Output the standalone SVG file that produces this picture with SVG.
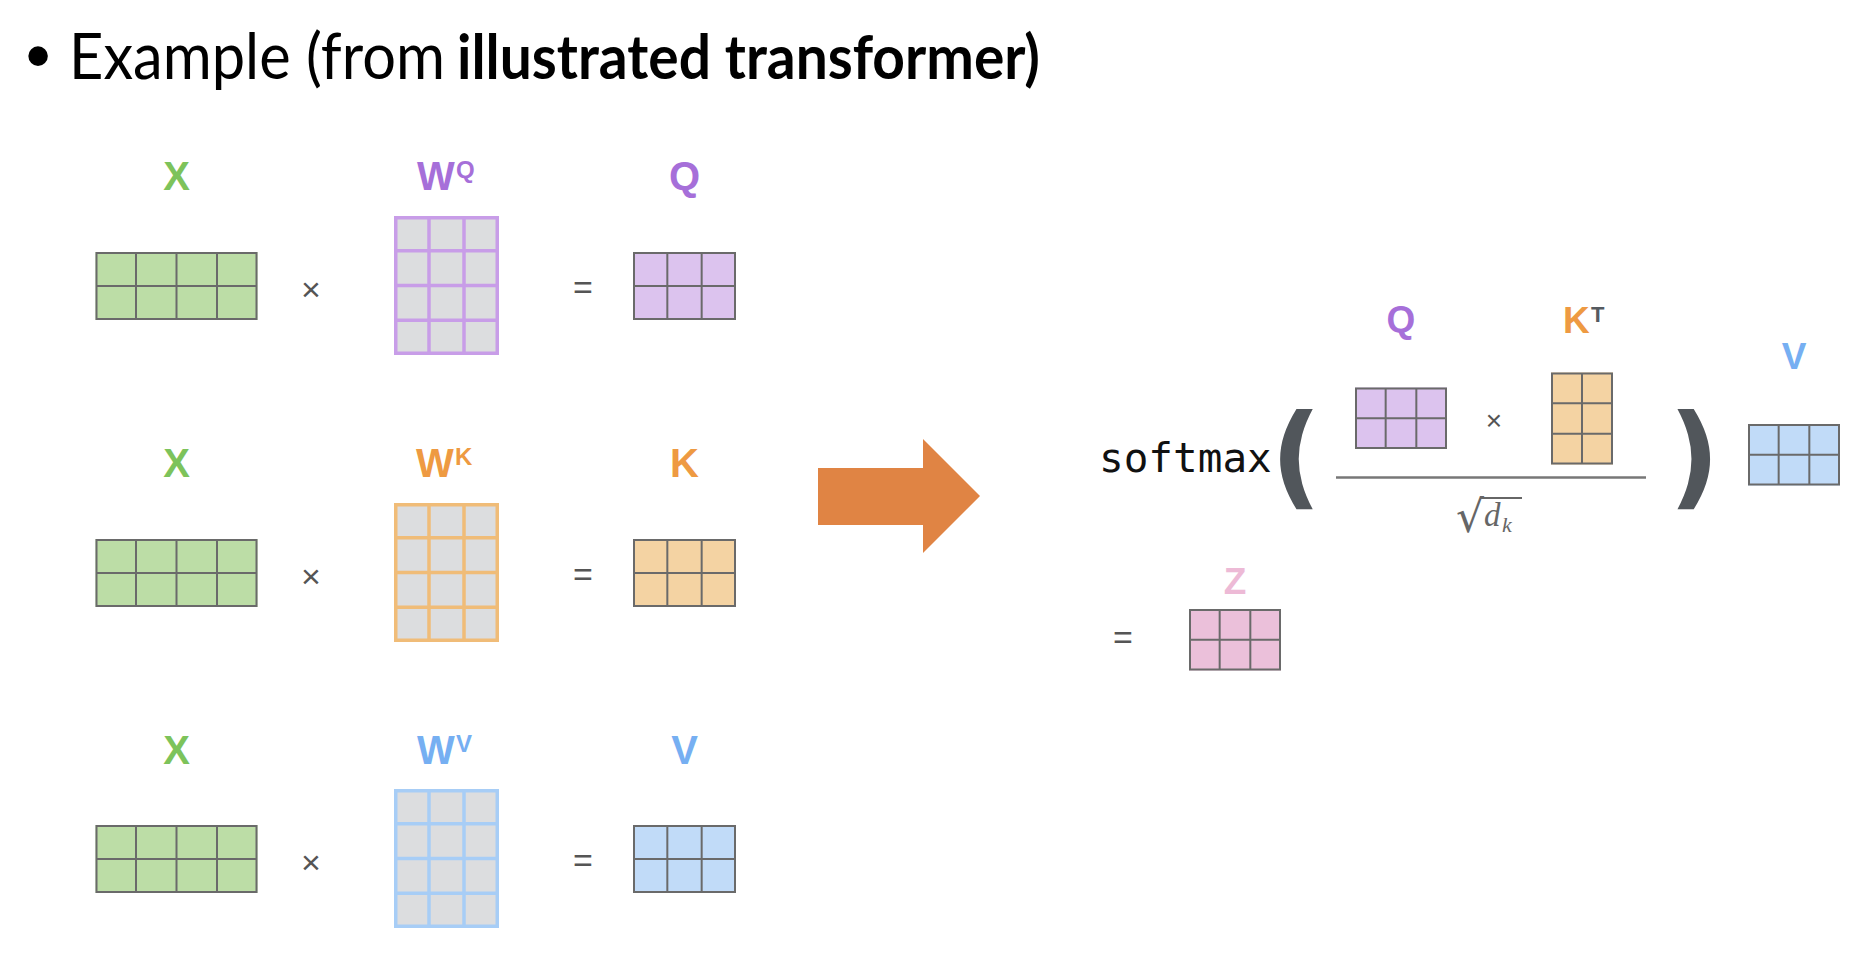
<svg xmlns="http://www.w3.org/2000/svg" xmlns:xlink="http://www.w3.org/1999/xlink" width="1870" height="954" viewBox="0 0 1870 954">
<style>
.title{font-family:Lato,"Liberation Sans",sans-serif;font-size:64px;fill:#000}
.b{font-weight:bold}
.lbl{font-family:"Liberation Sans",Arial,sans-serif;font-weight:bold;font-size:40px;text-anchor:middle}
.sup{font-family:"Liberation Sans",Arial,sans-serif;font-weight:bold;font-size:24px}
.rl{font-family:"Liberation Sans",Arial,sans-serif;font-weight:bold;font-size:37px;text-anchor:middle}
.op{font-family:"Liberation Sans",Arial,sans-serif;font-size:34px;fill:#555;text-anchor:middle}
.grid{stroke:#6A6A6A;stroke-width:2;fill:none}
.green{fill:#7DC35B}.purple{fill:#A66FD9}.orange{fill:#EE9A42}.blue{fill:#76AFF2}.pink{fill:#EDBAD6}
.paren{font-family:"DejaVu Sans",sans-serif;font-weight:bold;font-size:112px;fill:#51565B;text-anchor:middle}
.math{font-family:"Liberation Serif","DejaVu Serif",serif;font-style:italic;fill:#666}
</style>
<defs>
<g id="xmat">
<rect width="162" height="68" fill="#BCDDA6"/>
<path class="grid" d="M1 1H161V67H1ZM40.5 0V68M81 0V68M121.5 0V68M0 34H162"/>
</g>
<g id="wmat">
<rect width="105" height="139" fill="#DCDDDF"/>
<path fill="none" stroke="currentColor" stroke-width="3.5" d="M1.75 1.75H103.25V137.25H1.75ZM35 0V139M70 0V139M0 34.75H105M0 69.5H105M0 104.25H105"/>
</g>
<g id="m32">
<rect width="103" height="68" fill="currentColor"/>
<path class="grid" d="M1 1H102V67H1ZM34.33 0V68M68.67 0V68M0 34H103"/>
</g>
<g id="s32">
<rect width="92" height="61.5" fill="currentColor"/>
<path class="grid" d="M1 1H91V60.5H1ZM30.67 0V61.5M61.33 0V61.5M0 30.75H92"/>
</g>
<g id="s23">
<rect width="62" height="92" fill="currentColor"/>
<path class="grid" d="M1 1H61V91H1ZM31 0V92M0 30.67H62M0 61.33H62"/>
</g>
</defs>

<g id="title">
<text x="38" y="80" text-anchor="middle" style="font-family:'Liberation Sans',sans-serif;font-size:72px">•</text>
<text class="title" x="69" y="79" textLength="376" lengthAdjust="spacingAndGlyphs">Example (from</text>
<text class="title b" x="457" y="79" style="font-size:61px" textLength="583" lengthAdjust="spacingAndGlyphs">illustrated transformer)</text>
</g>

<!-- Row 1 -->
<g id="x-row1">
<use xlink:href="#xmat" x="95.5" y="252"/>
<text class="lbl green" x="176.5" y="190">X</text>
</g>
<g id="wq">
<use xlink:href="#wmat" x="394" y="216" style="color:#C89DE8"/>
<text class="lbl purple" x="417" y="190" style="text-anchor:start">W</text>
<text class="sup purple" x="456" y="178">Q</text>
</g>
<g id="q-left">
<use xlink:href="#m32" x="633" y="252" style="color:#DCC3EE"/>
<text class="lbl purple" x="684.5" y="190">Q</text>
</g>
<text class="op" x="311" y="301">×</text>
<text class="op" x="583" y="299">=</text>

<!-- Row 2 -->
<g id="x-row2">
<use xlink:href="#xmat" x="95.5" y="539"/>
<text class="lbl green" x="176.5" y="477">X</text>
</g>
<g id="wk">
<use xlink:href="#wmat" x="394" y="503" style="color:#F0BC78"/>
<text class="lbl orange" x="416" y="477" style="text-anchor:start">W</text>
<text class="sup orange" x="455" y="465">K</text>
</g>
<g id="k-left">
<use xlink:href="#m32" x="633" y="539" style="color:#F4D3A3"/>
<text class="lbl orange" x="684.5" y="477">K</text>
</g>
<text class="op" x="311" y="588">×</text>
<text class="op" x="583" y="586">=</text>

<!-- Row 3 -->
<g id="x-row3">
<use xlink:href="#xmat" x="95.5" y="825"/>
<text class="lbl green" x="176.5" y="764">X</text>
</g>
<g id="wv">
<use xlink:href="#wmat" x="394" y="789" style="color:#A7CDF6"/>
<text class="lbl blue" x="417" y="764" style="text-anchor:start">W</text>
<text class="sup blue" x="456" y="752">V</text>
</g>
<g id="v-left">
<use xlink:href="#m32" x="633" y="825" style="color:#C1DBF8"/>
<text class="lbl blue" x="684.5" y="764">V</text>
</g>
<text class="op" x="311" y="874">×</text>
<text class="op" x="583" y="872">=</text>

<!-- Connectors -->
<g id="connectors">
<polygon points="818,468 923,468 923,439 980,496 923,553 923,525 818,525" fill="#E08444"/>
</g>

<!-- Right side formula -->
<g id="softmax">
<text x="1099" y="472" style="font-family:'DejaVu Sans Mono',monospace;font-size:41px;fill:#111">softmax</text>
<text class="paren" x="1296" y="494">(</text>
<text class="paren" x="1694" y="494">)</text>
</g>
<g id="q-right">
<use xlink:href="#s32" x="1355" y="387.5" style="color:#DCC3EE"/>
<text class="rl purple" x="1401" y="332">Q</text>
</g>
<text class="op" x="1494" y="430" style="font-size:28px">×</text>
<g id="kt-right">
<use xlink:href="#s23" x="1551" y="372.5" style="color:#F4D3A3"/>
<text class="rl orange" x="1563" y="333" style="text-anchor:start">K</text>
<text class="sup" x="1591" y="322" style="fill:#555A60;font-size:22px">T</text>
</g>
<g id="fraction">
<line x1="1336" y1="477.5" x2="1646" y2="477.5" stroke="#777" stroke-width="2.5"/>
<text x="1456" y="532" style="font-family:'DejaVu Serif',serif;font-size:44px;fill:#666">√</text>
<line x1="1481" y1="498" x2="1522" y2="498" stroke="#666" stroke-width="2"/>
<text class="math" x="1484" y="526" style="font-size:33px">d</text>
<text class="math" x="1502" y="532" style="font-size:22px">k</text>
</g>
<g id="v-right">
<use xlink:href="#s32" x="1748" y="424" style="color:#C1DBF8"/>
<text class="rl blue" x="1794" y="369">V</text>
</g>
<text class="op" x="1123" y="649">=</text>
<g id="z-right">
<use xlink:href="#s32" x="1189" y="609" style="color:#EBC0DA"/>
<text class="rl pink" x="1235" y="594">Z</text>
</g>
</svg>
